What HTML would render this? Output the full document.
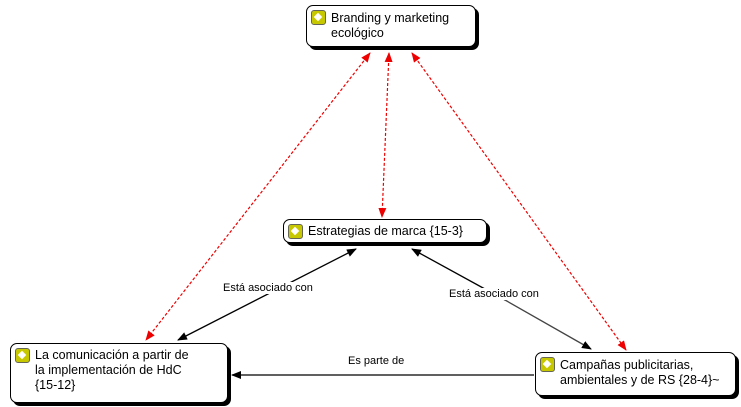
<!DOCTYPE html>
<html><head><style>
body{margin:0;width:741px;height:407px;background:#fff;font-family:"Liberation Sans",sans-serif;overflow:hidden;position:relative}
.b{position:absolute;background:#fff;border:1.5px solid #000;border-radius:7px;box-shadow:3px 3px 0 #000;font-size:12.5px;line-height:15px;color:#000;box-sizing:border-box}
.i{position:absolute;left:4px;top:4px;width:13px;height:13px;background:#c8c800;border:1px solid #665;border-radius:3px}
.i:after{content:"";position:absolute;left:3px;top:3px;width:6px;height:6px;background:#fff;transform:rotate(45deg)}
.l{position:absolute;font-size:11px;background:#fff}
</style></head><body>
<svg width="741" height="407" style="position:absolute;left:0;top:0">
<defs>
<marker id="r" markerWidth="10" markerHeight="8" refX="9" refY="4" orient="auto-start-reverse" markerUnits="userSpaceOnUse"><path d="M0,0L10,4L0,8z" fill="#e00"/></marker>
<marker id="k" markerWidth="10" markerHeight="8" refX="9" refY="4" orient="auto-start-reverse" markerUnits="userSpaceOnUse"><path d="M0,0L10,4L0,8z" fill="#000"/></marker>
</defs>
<g stroke="#e00" stroke-width="1.2" stroke-dasharray="3,2" fill="none">
<line x1="370" y1="53" x2="146" y2="340" marker-start="url(#r)" marker-end="url(#r)"/>
<line x1="389" y1="53" x2="382" y2="217" marker-start="url(#r)" marker-end="url(#r)"/>
<line x1="412" y1="53" x2="626" y2="350" marker-start="url(#r)" marker-end="url(#r)"/>
</g>
<g stroke="#000" stroke-width="1.3" fill="none">
<line x1="356" y1="249" x2="178" y2="340" marker-start="url(#k)" marker-end="url(#k)"/>
<line x1="412" y1="249" x2="505" y2="300"  marker-start="url(#k)"/>
<line x1="505" y1="300" x2="591" y2="349" stroke="#444" marker-end="url(#k)"/>
<line x1="534" y1="375" x2="232" y2="375" marker-end="url(#k)"/>
</g>
</svg>
<div class="l" style="left:223px;top:282px">Está asociado con</div>
<div class="l" style="left:449px;top:288px">Está asociado con</div>
<div class="l" style="left:348px;top:355px">Es parte de</div>
<div class="b" style="left:306px;top:5px;width:170px;height:42px;padding:5px 0 0 24px"><span class="i"></span>Branding y marketing<br>ecológico</div>
<div class="b" style="left:283px;top:219px;width:204px;height:24px;padding:4px 0 0 24px"><span class="i"></span>Estrategias de marca {15-3}</div>
<div class="b" style="left:10px;top:343px;width:218px;height:60px;padding:4px 0 0 24px"><span class="i"></span>La comunicación a partir de<br>la implementación de HdC<br>{15-12}</div>
<div class="b" style="left:535px;top:352px;width:201px;height:44px;padding:5px 0 0 24px"><span class="i"></span>Campañas publicitarias,<br>ambientales y de RS {28-4}~</div>
</body></html>
